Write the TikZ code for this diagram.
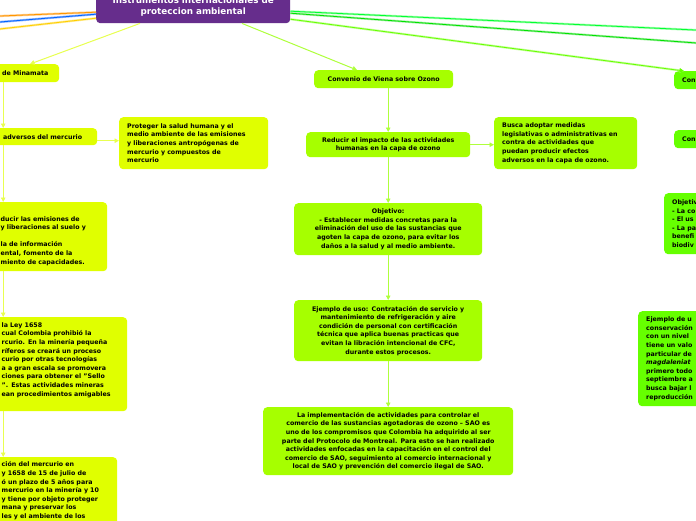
\documentclass[tikz,border=0pt]{standalone}
\usepackage{fontspec}
\setmainfont{DejaVu Sans}
\usetikzlibrary{arrows.meta}
\definecolor{cTitle}{RGB}{102,45,140}
\definecolor{cMina}{RGB}{224,255,0}
\definecolor{cMinaLine}{RGB}{232,255,80}
\definecolor{cVie}{RGB}{166,255,0}
\definecolor{cVieLine}{RGB}{175,255,60}
\definecolor{cRight}{RGB}{102,255,0}
\definecolor{cOrange}{RGB}{255,150,0}
\definecolor{cOrangeL}{RGB}{255,205,140}
\definecolor{cBlue}{RGB}{0,100,255}
\definecolor{cBlueL}{RGB}{140,180,255}
\definecolor{cYel}{RGB}{255,205,0}
\definecolor{cYelL}{RGB}{255,235,140}
\definecolor{cGa}{RGB}{0,255,50}
\definecolor{cGaL}{RGB}{160,255,170}
\definecolor{cGb}{RGB}{0,225,0}
\definecolor{cGbL}{RGB}{160,240,160}
\definecolor{cGc}{RGB}{102,255,0}
\definecolor{cGcL}{RGB}{200,255,160}
\newcommand\bxf{\fontsize{6.3}{8.6}\selectfont\bfseries}
\newcommand\ttf{\fontsize{8.8}{10.5}\selectfont\bfseries}
\newcommand\lft[2]{\raggedright\leftskip=#1\relax\rightskip=0pt plus 1fil\relax #2\par}
\newcommand\blank{\phantom{Ay}}
\begin{document}
\begin{tikzpicture}[x=1pt,y=-1pt,
  box/.style={rectangle, rounded corners=4pt, inner sep=0pt, anchor=north west, font=\bxf, text=black},
  tip/.style={-{Triangle[length=4.5pt,width=4.5pt]}},
  mline/.style={draw=cMinaLine, line width=0.9pt},
  vline/.style={draw=cVieLine, line width=0.9pt},
  twoline/.style 2 args={preaction={draw=#2, line width=2.2pt}, draw=#1, line width=0.8pt}]
\useasboundingbox (0,0) rectangle (696,520);
\fill[white] (0,0) rectangle (696,520);
\clip (0,0) rectangle (696,520);

% title
\node[box, fill=cTitle, text=white, font=\ttf, align=center, minimum width=194pt, text width=194pt, minimum height=33pt] (T) at (96,-10) {Instrumentos internacionales de\\proteccion ambiental};

% Minamata column (clipped on the left)
\node[box, fill=cMina, text width=112pt, minimum width=112pt, minimum height=18pt] (A) at (-53,64) {\lft{55pt}{de Minamata}};
\node[box, fill=cMina, text width=188pt, minimum width=188pt, minimum height=17pt] (B) at (-91,128) {\lft{94pt}{adversos del mercurio}};
\node[box, fill=cMina, text width=149pt, minimum width=149pt, minimum height=52pt] (C) at (119,117) {\lft{8pt}{Proteger la salud humana y el\\medio ambiente de las emisiones\\y liberaciones antropógenas de\\mercurio y compuestos de\\mercurio}};
\node[box, fill=cMina, text width=208pt, minimum width=208pt, minimum height=69pt] (D) at (-101,202) {\lft{101.5pt}{\blank\\ducir las emisiones de\\y liberaciones al suelo y\\\blank\\la de información\\ental, fomento de la\\miento de capacidades.}};
\node[box, fill=cMina, text width=248pt, minimum width=248pt, minimum height=94pt] (E) at (-121,317) {\lft{122.5pt}{la Ley 1658\\cual Colombia prohibió la\\rcurio. En la minería pequeña\\ríferos se creará un proceso\\curio por otras tecnologías\\a a gran escala se promovera\\ciones para obtener el "Sello\\". Estas actividades mineras\\ean procedimientos amigables\\\blank}};
\node[box, fill=cMina, text width=228pt, minimum width=228pt, minimum height=76pt] (F) at (-111,457) {\lft{112.5pt}{ción del mercurio en\\y 1658 de 15 de julio de\\ó un plazo de 5 años para\\mercurio en la minería y 10\\y tiene por objeto  proteger\\mana y preservar los\\les y el ambiente de los\\\blank}};

% Viena column
\node[box, fill=cVie, align=center, text width=139pt, minimum width=139pt, minimum height=18pt] (G) at (314,70) {Convenio de Viena sobre Ozono};
\node[box, fill=cVie, align=center, text width=164pt, minimum width=164pt, minimum height=25pt] (H) at (306,132) {Reducir el impacto de las actividades\\humanas en la capa de ozono};
\node[box, fill=cVie, text width=143pt, minimum width=143pt, minimum height=52pt] (I) at (494,117) {\lft{8pt}{Busca adoptar medidas\\legislativas o administrativas en\\contra de actividades que\\puedan producir efectos\\adversos en la capa de ozono.}};
\node[box, fill=cVie, align=center, text width=188pt, minimum width=188pt, minimum height=52pt] (J) at (294,203) {Objetivo:\\- Establecer medidas concretas para la\\eliminación del uso de las sustancias que\\agoten la capa de ozono, para evitar los\\daños a la salud y al medio ambiente.};
\node[box, fill=cVie, align=center, text width=188pt, minimum width=188pt, minimum height=61pt] (K) at (294,300) {Ejemplo de uso: Contratación de servicio y\\mantenimiento de refrigeración y aire\\condición de personal con certificación\\técnica que aplica buenas practicas que\\evitan la libración intencional de CFC,\\durante estos procesos.};
\node[box, fill=cVie, align=center, text width=250pt, minimum width=250pt, minimum height=68pt] (L) at (263,407) {La implementación de actividades para controlar el\\comercio de las sustancias agotadoras de ozono – SAO es\\uno de los compromisos que Colombia ha adquirido al ser\\parte del Protocolo de Montreal. Para esto se han realizado\\actividades enfocadas en la capacitación en el control del\\comercio de SAO, seguimiento al comercio internacional y\\local de SAO y prevención del comercio ilegal de SAO.};

% right column (clipped on the right)
\node[box, fill=cRight, text width=90pt, minimum width=90pt, minimum height=18pt] (M) at (674,71) {\lft{8pt}{Con}};
\node[box, fill=cRight, text width=90pt, minimum width=90pt, minimum height=18pt] (N) at (674,130) {\lft{8pt}{Con}};
\node[box, fill=cRight, text width=100pt, minimum width=100pt, minimum height=61pt] (O) at (664,193) {\lft{8pt}{Objetiv\\- La co\\- El us\\- La pa\\benefi\\biodiv}};
\node[box, fill=cRight, text width=120pt, minimum width=120pt, minimum height=95pt] (P) at (638,311) {\lft{8pt}{Ejemplo de u\\conservación\\con un nivel\\tiene un valo\\particular de\\\textit{magdaleniat}\\primero todo\\septiembre a\\busca bajar l\\reproducción}};

% connectors from the title
\coordinate (oL) at (-10,16.4);
\coordinate (bL) at (-10,22.8);
\coordinate (yL) at (-10,30.1);
\coordinate (g1R) at (706,30.5);
\coordinate (g2R) at (706,43.7);
\draw[twoline={cOrange}{cOrangeL}] ([yshift=-5.5pt]T.west) -- (oL);
\draw[twoline={cBlue}{cBlueL}] ([yshift=-7.5pt]T.west) -- (bL);
\draw[twoline={cYel}{cYelL}] ([yshift=-11.5pt]T.west) -- (yL);
\draw[twoline={cGa}{cGaL}] ([yshift=-4.5pt]T.east) -- (g1R);
\draw[twoline={cGb}{cGbL}] ([yshift=-6.5pt]T.east) -- (g2R);
\draw[twoline={cGc}{cGcL}, tip] ([yshift=-12.5pt]T.east) -- ([xshift=10pt]M.north west);
\draw[draw=cMinaLine, line width=1pt, tip] ([xshift=44pt]T.south west) -- ([xshift=83pt]A.north west);
\draw[draw=cVieLine, line width=1pt, tip] ([xshift=146pt]T.south west) -- ([xshift=43pt]G.north west);

% Minamata connectors
\draw[mline, tip] (A.south) -- (B.north);
\draw[mline, tip] ([yshift=-4pt]B.east) -- ([yshift=-4pt]B.east -| C.west);
\draw[mline, tip] (B.south) -- (D.north);
\draw[mline, tip] (D.south) -- (E.north);
\draw[mline, tip] (E.south) -- (F.north);

% Viena connectors
\draw[vline, tip] (G.south -| H.north) -- (H.north);
\draw[vline, tip] (H.east) -- (H.east -| I.west);
\draw[vline, tip] (H.south) -- (J.north);
\draw[vline, tip] (J.south) -- (K.north);
\draw[vline, tip] (K.south) -- (L.north);
\end{tikzpicture}
\end{document}
